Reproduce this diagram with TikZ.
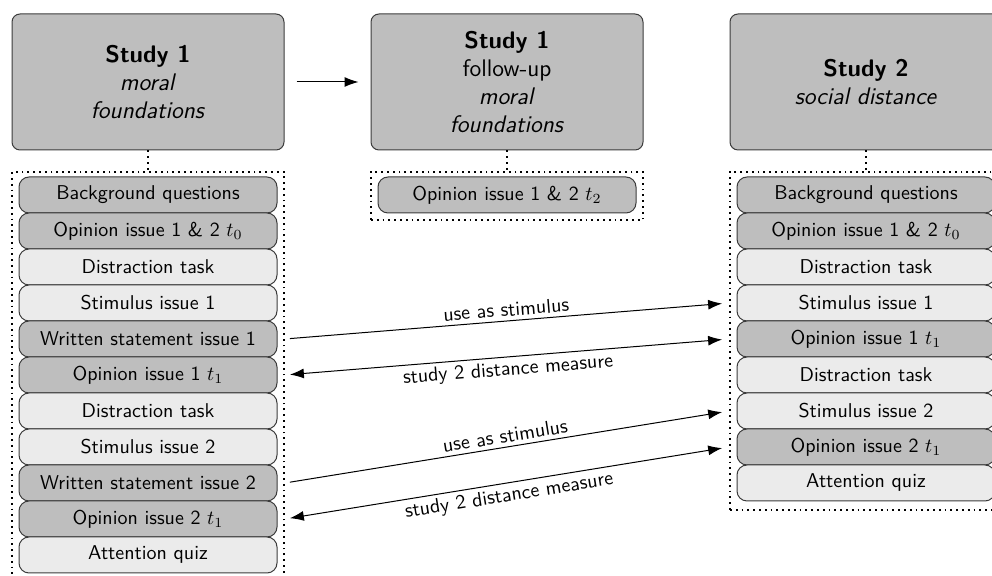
\documentclass[tikz,border=0pt]{standalone}
\usetikzlibrary{arrows.meta,fit}
\definecolor{darkfill}{RGB}{190,190,190}
\definecolor{lightfill}{RGB}{235,235,235}
\definecolor{edgecol}{RGB}{60,60,60}
\begin{document}
\begin{tikzpicture}[x=0.5pt,y=-0.5pt,font=\sffamily,
  headbox/.style={draw=edgecol,line width=0.5pt,fill=darkfill,rounded corners=4pt,minimum width=136pt,minimum height=68pt,align=center,font=\sffamily\large,inner sep=2pt},
  itemdark/.style={draw=edgecol,line width=0.5pt,fill=darkfill,rounded corners=5pt,minimum width=129pt,minimum height=18pt,inner sep=1pt},
  itemlight/.style={itemdark,fill=lightfill},
  dotbox/.style={draw,dotted,line width=0.9pt,inner sep=0pt},
  dotline/.style={draw,dotted,line width=0.9pt},
  tip/.tip={Latex[length=7pt,width=5pt]},
  arr/.style={-tip,line width=0.5pt},
  darr/.style={tip-tip,line width=0.5pt},
  lbl/.style={font=\sffamily,sloped,inner sep=2pt}]
\useasboundingbox (0,0) rectangle (992,576);
% heads
\node[headbox] (h1) at (148,82) {\textbf{Study 1}\\\textit{moral}\\\textit{foundations}};
\node[headbox] (h2) at (507,82) {\textbf{Study 1}\\follow-up\\\textit{moral}\\\textit{foundations}};
\node[headbox] (h3) at (866,82) {\textbf{Study 2}\\\textit{social distance}};
% left column
\node[itemdark]  (a1)  at (148,195) {Background questions};
\node[itemdark]  (a2)  at (148,231) {Opinion issue 1 \& 2 $t_0$};
\node[itemlight] (a3)  at (148,267) {Distraction task};
\node[itemlight] (a4)  at (148,303) {Stimulus issue 1};
\node[itemdark]  (a5)  at (148,339) {Written statement issue 1};
\node[itemdark]  (a6)  at (148,375) {Opinion issue 1 $t_1$};
\node[itemlight] (a7)  at (148,411) {Distraction task};
\node[itemlight] (a8)  at (148,447) {Stimulus issue 2};
\node[itemdark]  (a9)  at (148,483) {Written statement issue 2};
\node[itemdark]  (a10) at (148,519) {Opinion issue 2 $t_1$};
\node[itemlight] (a11) at (148,555) {Attention quiz};
% middle
\node[itemdark] (b1) at (507,195) {Opinion issue 1 \& 2 $t_2$};
% right column
\node[itemdark]  (c1) at (866,195) {Background questions};
\node[itemdark]  (c2) at (866,231) {Opinion issue 1 \& 2 $t_0$};
\node[itemlight] (c3) at (866,267) {Distraction task};
\node[itemlight] (c4) at (866,303) {Stimulus issue 1};
\node[itemdark]  (c5) at (866,339) {Opinion issue 1 $t_1$};
\node[itemlight] (c6) at (866,375) {Distraction task};
\node[itemlight] (c7) at (866,411) {Stimulus issue 2};
\node[itemdark]  (c8) at (866,447) {Opinion issue 2 $t_1$};
\node[itemlight] (c9) at (866,483) {Attention quiz};
% dotted containers
\coordinate (lTL) at (12,172); \coordinate (lBR) at (284,579);
\coordinate (mTL) at (371,172); \coordinate (mBR) at (643,220);
\coordinate (rTL) at (730,172); \coordinate (rBR) at (1002,510);
\node[dotbox,fit=(lTL)(lBR)] (L) {};
\node[dotbox,fit=(mTL)(mBR)] (M) {};
\node[dotbox,fit=(rTL)(rBR)] (R) {};
\draw[dotline] (h1.south) -- (L.north);
\draw[dotline] (h2.south) -- (M.north);
\draw[dotline] (h3.south) -- (R.north);
% arrows
\draw[arr,shorten <=6pt,shorten >=6pt] (h1.east) -- (h2.west);
\draw[arr,shorten <=2.5pt,shorten >=3.5pt] (a5.east -| L.east) -- node[lbl,above] {use as stimulus} (c4.west -| R.west);
\draw[darr,shorten <=3.5pt,shorten >=2.5pt] (c5.west -| R.west) -- node[lbl,below] {study 2 distance measure} (a6.east -| L.east);
\draw[arr,shorten <=2.5pt,shorten >=3.5pt] (a9.east -| L.east) -- node[lbl,above] {use as stimulus} (c7.west -| R.west);
\draw[darr,shorten <=3.5pt,shorten >=2.5pt] (c8.west -| R.west) -- node[lbl,below] {study 2 distance measure} (a10.east -| L.east);
\end{tikzpicture}
\end{document}
